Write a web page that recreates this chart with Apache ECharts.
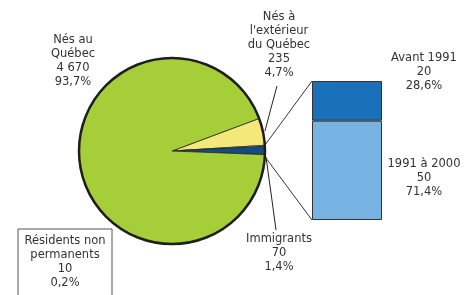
<!DOCTYPE html>
<html><head><meta charset="utf-8">
<script src="https://cdn.jsdelivr.net/npm/echarts@6/dist/echarts.min.js"></script>
<style>html,body{margin:0;padding:0;background:#fff}#c{width:472px;height:295px}</style>
</head><body><div id="c"></div>
<script>
// ---- data ----
const pieNames = ["Nés à\nl'extérieur\ndu Québec", "Résidents non\npermanents", "Immigrants", "Nés au\nQuébec"];
const pieValues = [235, 10, 70, 4670];
const piePercents = ["4,7%", "0,2%", "1,4%", "93,7%"];
const pieColors = ["#f4e87a", "#ececec", "#114d7e", "#a6ce39"];

const barNames = ["1991 à 2000", "Avant 1991"];
const barValues = [50, 20];
const barPercents = ["71,4%", "28,6%"];
const barColors = ["#78b4e3", "#1b71b9"];

// ---- layout ----
const FONT = "DejaVu Sans";
const FS = 11.5, LH = 14, TXT = "#333";
const CX = 172, CY = 151, R = 93, START = 20.5;

function fmt(n) { return String(n).replace(/\B(?=(\d{3})+(?!\d))/g, " "); }

const pieLabelPos = [
  { x: 279, y: 45, verticalAlign: 'middle', line: [[265,131],[271,108],[277,86]] },
  { x: 65, y: 229, verticalAlign: 'top' },
  { x: 279, y: 232, verticalAlign: 'top', line: [[266,157],[271,193],[276,230]] },
  { x: 73, y: 61.5, verticalAlign: 'middle' }
];

const chart = echarts.init(document.getElementById('c'), null, { renderer: 'canvas' });

const pieData = pieValues.map((v, i) => ({
  name: pieNames[i], value: v,
  itemStyle: { color: pieColors[i] },
  labelLine: { show: !!pieLabelPos[i].line },
  label: i === 1 ? {
    borderColor: '#555', borderWidth: 1, padding: [5, 5, 24, 5], width: 84, align: 'center'
  } : {}
}));

const barSeries = barValues.map((v, i) => ({
  type: 'bar', name: barNames[i], stack: 'imm', data: [v],
  barWidth: 70,
  itemStyle: { color: barColors[i], borderColor: '#333', borderWidth: 1 },
  label: {
    show: true, fontFamily: FONT, fontSize: FS, lineHeight: LH, color: TXT, align: 'center',
    formatter: () => barNames[i] + "\n" + fmt(v) + "\n" + barPercents[i]
  },
  labelLayout: () => ({ x: 424, y: i === 0 ? 178 : 72, align: 'center', verticalAlign: 'middle' })
}));

chart.setOption({
  animation: false,
  textStyle: { fontFamily: FONT },
  grid: { left: 312, top: 81, width: 70, height: 139 },
  xAxis: { type: 'category', data: ['Immigrants'], show: false },
  yAxis: { type: 'value', min: 0, max: barValues.reduce((a, b) => a + b, 0), show: false },
  series: [
    {
      type: 'pie', center: [CX, CY], radius: R, startAngle: START, clockwise: true,
      silent: true, minAngle: 0, avoidLabelOverlap: false,
      itemStyle: { borderColor: '#2a2a2a', borderWidth: 0.8 },
      label: {
        show: true, fontFamily: FONT, fontSize: FS, lineHeight: LH, color: TXT, align: 'center',
        formatter: p => pieNames[p.dataIndex] + "\n" + fmt(p.value) + "\n" + piePercents[p.dataIndex]
      },
      labelLine: { show: true, lineStyle: { color: '#222', width: 1 } },
      labelLayout: p => {
        const L = pieLabelPos[p.dataIndex];
        const o = { x: L.x, y: L.y, align: 'center', verticalAlign: L.verticalAlign };
        if (L.line) o.labelLinePoints = L.line;
        return o;
      },
      data: pieData
    },
    {
      type: 'pie', center: [CX, CY], radius: R, silent: true, z: 5,
      label: { show: false }, labelLine: { show: false },
      itemStyle: { color: 'rgba(0,0,0,0)', borderColor: '#1e1e1e', borderWidth: 2.5 },
      data: [{ value: 1 }]
    },
    ...barSeries
  ]
});

// connector lines from the immigrant wedge to the bar
const total = pieValues.reduce((a, b) => a + b, 0);
const aTop = START - pieValues[0] / total * 360;
const aBot = aTop - (pieValues[1] + pieValues[2]) / total * 360;
const rad = a => a * Math.PI / 180;
const p1 = [CX + R * Math.cos(rad(aTop)), CY - R * Math.sin(rad(aTop))];
const p2 = [CX + R * Math.cos(rad(aBot)), CY - R * Math.sin(rad(aBot))];
const bx = chart.convertToPixel({ xAxisIndex: 0 }, 'Immigrants') - 35;
const byTop = chart.convertToPixel({ yAxisIndex: 0 }, barValues[0] + barValues[1]);
const byBot = chart.convertToPixel({ yAxisIndex: 0 }, 0);
chart.setOption({
  graphic: [
    { type: 'line', shape: { x1: p1[0], y1: p1[1], x2: bx, y2: byTop }, style: { stroke: '#333', lineWidth: 1 }, z: 1 },
    { type: 'line', shape: { x1: p2[0], y1: p2[1] + 2, x2: bx, y2: byBot }, style: { stroke: '#333', lineWidth: 1 }, z: 1 }
  ]
});
</script>
</body></html>
